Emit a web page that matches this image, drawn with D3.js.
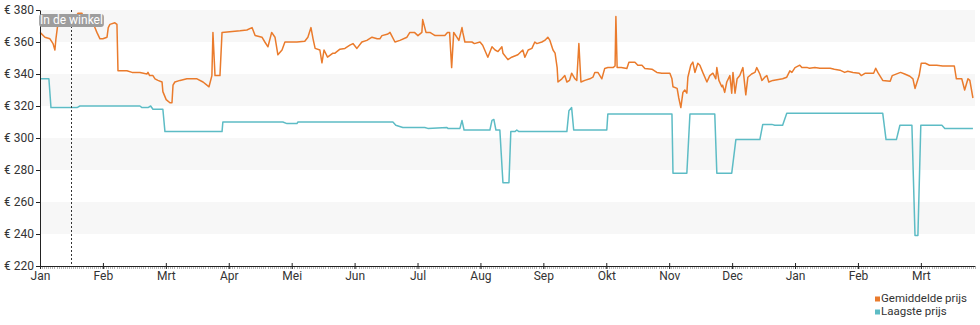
<!DOCTYPE html>
<html>
<head>
<meta charset="utf-8">
<script src="https://cdn.jsdelivr.net/npm/d3@7"></script>
<style>
  body { margin: 0; background: #fff; }
  svg text { font-family: Roboto, "Noto Sans", sans-serif; }
</style>
</head>
<body>
<svg id="chart" width="980" height="325"></svg>
<script>
// Month labels for the x axis (one tick per month, starting in January)
const monthLabels = ["Jan", "Feb", "Mrt", "Apr", "Mei", "Jun", "Jul", "Aug", "Sep", "Okt", "Nov", "Dec", "Jan", "Feb", "Mrt"];
// Price ticks on the y axis (euro)
const priceTicks = [220, 240, 260, 280, 300, 320, 340, 360, 380];
// Number of days covered by the chart, and the day the product appeared in the store
const totalDays = 452;
const storeDay = 15;
const storeLabel = "In de winkel";

const seriesNames = ["Gemiddelde prijs", "Laagste prijs"];
const seriesColors = ["#ea7b2c", "#5dbcc5"];

// Average price per day: [day, price]
const averagePrice = [
  [0,366],[2.4,363],[4.8,362],[6.3,359],[7.2,355],[7.7,362],[9.2,377],[11,376],[12,376],[14.5,374],
  [16,371],[17,375],[18.4,378],[20.3,378],[20.8,374],[22.7,375],[24,376],[25.6,372],[27.5,366],[29,362],
  [30.4,362],[32.4,363],[33,369],[33.8,371],[36.2,372],[37.2,371],[37.7,342],[38.7,342],[42,342],[44.5,341],
  [48.3,341],[51.7,340],[52.2,341],[53,339],[54.6,339],[55.6,337],[57,336],[59,335],[59.4,329],[61,324],
  [62.8,322],[63.8,322],[64.3,333],[65.2,335],[67.7,336],[71,337],[72.5,337],[75.9,337],[78.8,335],[80.7,333],
  [81.7,332],[83.1,339],[83.6,366],[84.6,339],[87,339],[88,366],[96.7,367],[100,367.5],[102.5,369],[104,364],
  [107.3,363],[108.7,360],[110.2,357],[112,366],[113.6,363],[115,352],[117,355],[118.4,360],[120.8,360],[124.2,360],
  [128,360.5],[129.5,363],[131,369],[132,362],[133,356],[135.3,355],[136.3,347],[137.3,355],[139,350.5],[141.6,353],
  [142.6,353],[145,355.5],[147.4,356],[149.8,358],[151.3,359],[153.2,356],[155.6,360],[158,361],[160.5,363],[163,362],
  [164.3,362],[165.3,364],[168.2,365],[169.2,366],[170,364],[171.6,360],[174,361],[177.4,363],[178.8,366],[181,366],
  [182.7,364],[184.6,366],[185,374],[186.6,366],[188.5,366],[191,364],[195.7,364],[197,366],[198,366],[199,344],
  [200,366],[201.5,363],[202.5,361],[204,369],[204.4,366],[205.4,360],[208.8,360],[210,359],[212.7,360],[214,358],
  [216.5,350.5],[218.5,357],[220,355],[221.4,354],[223.3,357],[223.8,353],[226.2,349],[228,350.5],[231,352],[233.4,355],
  [234.4,350.5],[236,355],[237.8,356],[239.2,360],[240.2,359],[242.6,360],[244,361],[245.5,363],[246.5,361],[248,355],
  [249,353],[250,344],[250.4,335],[252.3,337],[253.7,339],[254.7,335],[256,336],[257,340.5],[258.6,337],[259.5,336],
  [260.5,359],[261.5,335],[263.4,336],[265.8,337],[267.3,338],[268.2,341],[269.7,341],[271.6,337],[273,343.5],[274.5,344],
  [277,344],[278,345],[278.4,376],[279,344],[281,344],[283.7,343.5],[284.7,347.4],[287.6,347.4],[289,345.5],[291,345.5],
  [292.4,343.5],[295.8,343],[298.2,341],[300.6,340.5],[304.5,340.5],[305.5,337],[306,332],[308,331],[308.8,325],[309.8,319],
  [310.8,328.5],[311.7,330],[312.7,328],[313.2,338],[314.6,345.5],[315.6,347.4],[316.6,341],[318,346.7],[319,345.5],[320.4,341],
  [322.4,335],[323.8,339],[325.3,340.5],[326.7,337],[327.2,344],[328.2,336],[329.6,332],[330,333],[331,328.5],[332,335],
  [333.5,339],[334.4,328],[335,341],[336,328],[337,337],[338.3,339],[339.8,344],[341.2,327],[342.2,338],[344,340],
  [345.6,341],[346.5,344],[348,340],[349,336],[350.4,338],[351.4,339],[352.3,335],[354.3,336],[359,337],[361,338],
  [362.5,342],[363.5,341],[365,344],[367.3,345.5],[368.3,344],[371,344],[372,343.6],[374.6,344],[377,343.6],[382,343.6],
  [384,343],[386.7,342.4],[389,341],[390.5,341.7],[393,341],[396,340.5],[397,339],[399,340.5],[403,340.5],[404,343.6],
  [405,341],[407.4,336],[411,335.4],[412,339],[416,341],[418,340],[420.5,338.6],[422,337],[423,331],[424,335],
  [425,339],[426,346.7],[428,346.7],[430,345.5],[433.5,345.5],[436.4,345],[442,345],[443,337],[445.6,337],[447,330],
  [448.6,337],[449.5,336],[451,325]
];

// Lowest price per day: [day, price]
const lowestPrice = [
  [0,337],[4.3,337],[5.3,319],[17.9,319],[19.3,320],[48.3,320],[49.3,319],[52.2,319],[53.5,320],[54.6,318],
  [59.4,318],[60.4,304],[88,304],[88.4,310],[117.4,310],[119.4,309],[124.2,309],[124.7,310],[170.6,310],[172,308],
  [175.4,306.6],[186,306.6],[187.5,306],[196.7,306.6],[197.2,306],[203,306],[204,311],[205,305],[217.5,305],[218.5,311],
  [219.4,311.6],[220.4,305],[222.3,305],[223.8,272],[226.7,272],[227.6,304],[229.6,304],[230.5,305],[231.5,304],[254.7,304],
  [255.7,317],[257,319],[258,305],[274,305],[274.5,315],[305.5,315],[306,278],[312.7,278],[314.2,315],[326.2,315],
  [327.2,278],[334.4,278],[336.4,299],[348,299],[349.4,308.5],[353.8,308.5],[355.2,308],[359,308],[361,315.4],[407.4,315.4],
  [409,299],[414,299],[415.7,308],[421.5,308],[423,239],[424.4,239],[425.8,308],[436,308],[437.4,306],[451,306]
];

const svg = d3.select("#chart");
const plot = { left: 40, right: 975, top: 10, bottom: 266 };

const x = d3.scaleLinear().domain([0, totalDays]).range([plot.left, plot.right]);
const y = d3.scaleLinear().domain([priceTicks[0], priceTicks[priceTicks.length - 1]]).range([plot.bottom, plot.top]);

const daysPerMonth = 365 / 12;
const monthTicks = monthLabels.map((_, i) => i * daysPerMonth);

// Alternating background bands between price ticks
const bands = [];
for (let i = priceTicks.length - 1; i > 0; i -= 2) bands.push([priceTicks[i - 1], priceTicks[i]]);
svg.append("g").selectAll("rect").data(bands).join("rect")
  .attr("x", plot.left)
  .attr("width", plot.right - plot.left)
  .attr("y", d => y(d[1]))
  .attr("height", d => y(d[0]) - y(d[1]))
  .attr("fill", "#f7f7f7");

// Price lines
const line = d3.line().x(d => x(d[0])).y(d => y(d[1]));
svg.append("path").datum(lowestPrice)
  .attr("fill", "none").attr("stroke", seriesColors[1]).attr("stroke-width", 1.5)
  .attr("stroke-linejoin", "round").attr("d", line);
svg.append("path").datum(averagePrice)
  .attr("fill", "none").attr("stroke", seriesColors[0]).attr("stroke-width", 1.5)
  .attr("stroke-linejoin", "round").attr("d", line);

// Daily minor ticks under the x axis
svg.append("g").selectAll("line").data(d3.range(0, totalDays + 1)).join("line")
  .attr("x1", d => Math.round(x(d)) + 0.5).attr("x2", d => Math.round(x(d)) + 0.5)
  .attr("y1", plot.bottom + 1).attr("y2", plot.bottom + 3)
  .attr("stroke", "#b5b5b5").attr("stroke-width", 1);

// Y axis
const yAxis = svg.append("g")
  .attr("transform", `translate(${plot.left},0)`)
  .call(d3.axisLeft(y).tickValues(priceTicks).tickFormat(d => "€ " + d).tickSize(4).tickSizeOuter(0).tickPadding(2));
yAxis.select(".domain").attr("stroke", "#222");
yAxis.selectAll(".tick line").attr("stroke", "#222");
yAxis.selectAll("text").attr("font-size", 12).attr("fill", "#333");

// X axis
const xAxis = svg.append("g")
  .attr("transform", `translate(0,${plot.bottom})`)
  .call(d3.axisBottom(x).tickValues(monthTicks).tickFormat((d, i) => monthLabels[i]).tickSize(3).tickSizeOuter(0).tickPadding(2));
xAxis.select(".domain").attr("stroke", "#222");
xAxis.selectAll(".tick line").attr("stroke", "#222").attr("y1", -3);
xAxis.selectAll("text").attr("font-size", 12).attr("fill", "#333");

// Store launch marker
const sx = Math.round(x(storeDay)) + 0.5;
svg.append("line")
  .attr("x1", sx).attr("x2", sx).attr("y1", plot.top).attr("y2", plot.bottom)
  .attr("stroke", "#333").attr("stroke-width", 1).attr("stroke-dasharray", "2,2");
const tag = svg.append("g");
const tagText = tag.append("text")
  .attr("x", sx).attr("y", 20.5)
  .attr("text-anchor", "middle").attr("dominant-baseline", "middle")
  .attr("font-size", 12).attr("fill", "#fff").text(storeLabel);
const bb = tagText.node().getBBox();
tag.insert("rect", "text")
  .attr("x", bb.x - 1).attr("y", 14).attr("width", bb.width + 2).attr("height", 13)
  .attr("rx", 3).attr("fill", "#9d9d9d");

// Legend
const legend = svg.append("g").attr("transform", "translate(875,299)");
const items = legend.selectAll("g").data(seriesNames).join("g")
  .attr("transform", (d, i) => `translate(0,${i * 13})`);
items.append("rect").attr("x", 0).attr("y", -2.5).attr("width", 5).attr("height", 5)
  .attr("fill", (d, i) => seriesColors[i]);
items.append("text").attr("x", 6).attr("y", 0).attr("dominant-baseline", "middle")
  .attr("font-size", 11.5).attr("fill", "#333").text(d => d);
</script>
</body>
</html>
